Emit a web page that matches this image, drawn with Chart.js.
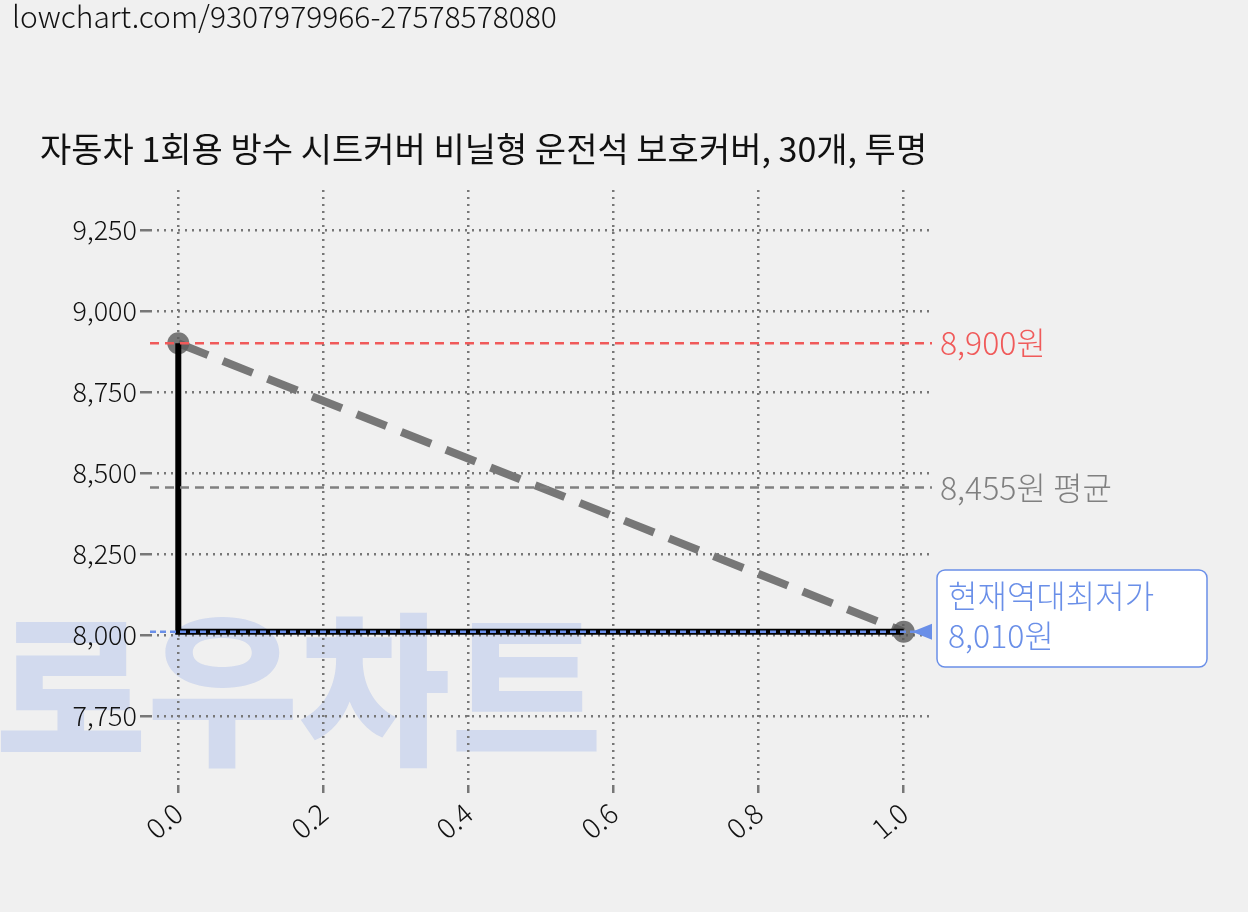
<!DOCTYPE html><html><head><meta charset="utf-8">
<script src="https://cdn.jsdelivr.net/npm/chart.js@4/dist/chart.umd.min.js"></script>
<style>html,body{margin:0;background:#f0f0f0}#w{position:relative;width:1248px;height:912px}</style></head><body><div id="w"><canvas id="c" width="1248" height="912"></canvas></div>
<script>
const title="자동차 1회용 방수 시트커버 비닐형 운전석 보호커버, 30개, 투명";
const url="lowchart.com/9307979966-27578578080";
const xs=[0,1];
const prices=[8900,8010];
const maxPrice=8900, avgPrice=8455, minPrice=8010;
const yTicks=[7750,8000,8250,8500,8750,9000,9250];
const F='"Noto Sans CJK KR","Noto Sans",sans-serif';
const deco={id:'deco',
beforeDraw(ch){const c=ch.ctx;c.save();c.fillStyle='#f0f0f0';c.fillRect(0,0,1248,912);
c.fillStyle='rgba(120,150,230,0.25)';c.font='900 165px '+F;c.textBaseline='alphabetic';c.fillText('로우차트',-5,752);
c.fillStyle='#111';c.font='300 30px '+F;c.fillText(url,12,28);c.font='400 34px '+F;c.fillText(title,40,162);c.restore();},
afterDatasetsDraw(ch){const c=ch.ctx,y=ch.scales.y,x=ch.scales.x,a=ch.chartArea;c.save();
const hl=(v,col,dash,w,x0)=>{c.strokeStyle=col;c.lineWidth=w;c.setLineDash(dash);c.beginPath();c.moveTo(x0,y.getPixelForValue(v));c.lineTo(a.right,y.getPixelForValue(v));c.stroke();};
hl(maxPrice,'#f05a5a',[9,6],2.5,a.left);hl(avgPrice,'#808080',[9,6],2.5,a.left);
c.setLineDash([4,4]);c.strokeStyle='#6a8fe8';c.lineWidth=3;hl(minPrice,'#6a8fe8',[6,4],2.5,a.left);
c.setLineDash([]);c.font='300 32px '+F;c.textBaseline='middle';
c.fillStyle='#f05a5a';c.fillText('8,900원',940,y.getPixelForValue(maxPrice));
c.fillStyle='#808080';c.fillText('8,455원 평균',940,y.getPixelForValue(avgPrice));
const ym=y.getPixelForValue(minPrice);
c.fillStyle='#6a8fe8';c.beginPath();c.moveTo(912,ym);c.lineTo(932,ym-8);c.lineTo(932,ym+8);c.fill();
c.fillStyle='#fff';c.strokeStyle='#6a8fe8';c.lineWidth=1.5;c.beginPath();c.roundRect(937,570,270,97,8);c.fill();c.stroke();
c.fillStyle='#6a8fe8';c.fillText('현재역대최저가',948,596);c.fillText('8,010원',948,636);c.restore();}};
new Chart(document.getElementById('c'),{type:'scatter',
data:{datasets:[
{data:xs.map((v,i)=>({x:v,y:prices[i]})),showLine:true,stepped:'after',borderColor:'#000',borderWidth:6,pointRadius:0},
{data:xs.map((v,i)=>({x:v,y:prices[i]})),showLine:true,borderColor:'#777',borderWidth:8,borderDash:[32,16],pointRadius:11,pointBackgroundColor:'rgba(90,90,90,0.8)',pointBorderWidth:0}
]},
options:{responsive:false,animation:false,layout:{padding:{left:0,top:190,right:316,bottom:0}},
plugins:{legend:{display:false},tooltip:{enabled:false}},
scales:{
x:{type:'linear',min:-0.039,max:1.039,afterFit(s){s.height=127;},afterBuildTicks(s){s.ticks=[0,0.2,0.4,0.6,0.8,1].map(v=>({value:v}));},
grid:{color:'#777',lineWidth:2.5,drawTicks:true,tickLength:8},border:{display:false,dash:[2,5]},
ticks:{color:'#111',font:{size:28,family:F,weight:'300'},maxRotation:40,minRotation:40,callback:v=>v.toFixed(1)}},
y:{min:7537,max:9373,afterFit(s){s.width=150;},afterBuildTicks(s){s.ticks=yTicks.map(v=>({value:v}));},
grid:{color:'#777',lineWidth:2.5,tickLength:10},border:{display:false,dash:[2,5]},
ticks:{color:'#111',font:{size:27,family:F,weight:'300'},callback:v=>v.toLocaleString('en-US')}}}},
plugins:[deco]});
</script></body></html>
